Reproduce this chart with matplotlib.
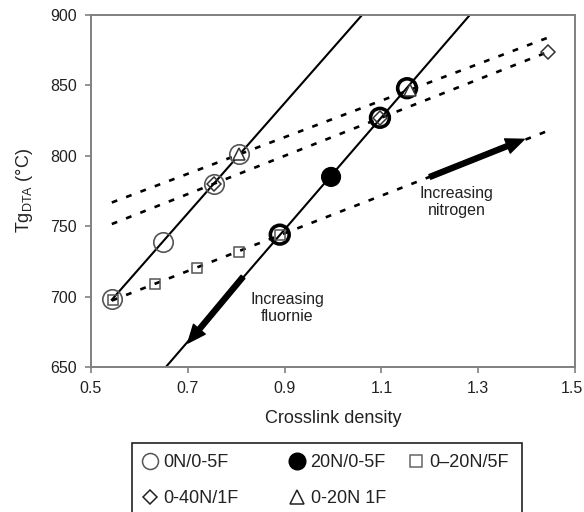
import numpy as np
import matplotlib
matplotlib.use("Agg")
import matplotlib.pyplot as plt
import matplotlib.transforms as mtransforms
from matplotlib.lines import Line2D
from matplotlib.patches import Rectangle

plt.rcParams['font.family'] = ['Liberation Sans', 'DejaVu Sans']
plt.rcParams['mathtext.fontset'] = 'custom'
plt.rcParams['mathtext.rm'] = 'Liberation Sans'
plt.rcParams['mathtext.it'] = 'Liberation Sans:italic'

# Glass transition temperature vs crosslink density for each composition series
x_0n = [0.543, 0.649, 0.754, 0.806]
y_0n = [698, 739, 780, 801]

x_20n = [0.890, 0.996, 1.097, 1.153]
y_20n = [744, 785, 827, 848]

x_5f = [0.545, 0.632, 0.719, 0.806, 0.890]
y_5f = [697.7, 709, 720.5, 732, 744]

x_40n1f = [0.754, 1.097, 1.444]
y_40n1f = [780, 827, 873.6]

x_20n1f = [0.806, 1.160]
y_20n1f = [801, 847]

labels = ['0N/0-5F', '20N/0-5F', '0\u201320N/5F', '0-40N/1F', '0-20N 1F']

x_ticks = [0.5, 0.7, 0.9, 1.1, 1.3, 1.5]
y_ticks = [650, 700, 750, 800, 850, 900]

W, H = 584, 512
fig = plt.figure(figsize=(W / 100, H / 100), dpi=100)
ax = fig.add_axes([91 / W, 1 - 367 / H, (575 - 91) / W, (367 - 15) / H])
ax.set_xlim(0.5, 1.5)
ax.set_ylim(650, 900)

def fit(xs, ys):
    return np.polyfit(xs, ys, 1)

# Solid fits: fluorine series at fixed nitrogen
p0 = fit(x_0n, y_0n)
xx = np.linspace(min(x_0n), 1.2, 50)
ax.plot(xx, np.polyval(p0, xx), color='black', lw=1.5, zorder=2)

p20 = fit(x_20n, y_20n)
xx = np.linspace(0.6, 1.35, 50)
ax.plot(xx, np.polyval(p20, xx), color='black', lw=1.5, zorder=2)

# Dashed fits: nitrogen series at fixed fluorine
dash = dict(color='black', lw=1.9, dashes=(2.2, 3.6), zorder=2)
x_lo, x_hi = 0.543, 1.445
for xs, ys in [(x_5f, y_5f), (x_40n1f, y_40n1f), (x_20n1f, y_20n1f)]:
    p = fit(xs, ys)
    xx = np.array([x_lo, x_hi])
    ax.plot(xx, np.polyval(p, xx), **dash)

# Markers
ax.plot(x_0n, y_0n, 'o', ms=14, mfc='none', mec='#555555', mew=1.2, zorder=3)

others = np.array(x_5f + x_40n1f + x_20n1f)
shared = np.array([np.any(np.abs(others - v) < 0.012) for v in x_20n])
ax.scatter(x_20n, y_20n, s=13.5 ** 2,
           facecolors=['none' if s else 'black' for s in shared],
           edgecolors='black', linewidths=[2.6 if s else 1.0 for s in shared],
           zorder=3)

ax.plot(x_5f, y_5f, 's', ms=7.5, mfc='none', mec='#555555', mew=1.1, zorder=3)
ax.plot(x_40n1f, y_40n1f, 'D', ms=7, mfc='none', mec='#333333', mew=1.1, zorder=3)
ax.plot(x_20n1f, y_20n1f, '^', ms=8.5, mfc='white', mec='#333333', mew=1.1, zorder=4)

# Trend arrows
arrow = dict(facecolor='black', edgecolor='black', width=3.6, headwidth=11,
             headlength=13, shrink=0)
ax.annotate('', xy=(0.700, 667), xytext=(0.814, 714), arrowprops=arrow, zorder=5)
ax.annotate('', xy=(1.395, 811.7), xytext=(1.200, 785), arrowprops=arrow, zorder=5)
ax.text(0.905, 692, 'Increasing\nfluornie', ha='center', va='center',
        fontsize=11.5, linespacing=1.2, color='#222222')
ax.text(1.256, 767, 'Increasing\nnitrogen', ha='center', va='center',
        fontsize=11.5, linespacing=1.2, color='#222222')

# Axes styling
for sp in ax.spines.values():
    sp.set_color('#808080')
    sp.set_linewidth(1.4)
ax.set_xticks(x_ticks)
ax.set_yticks(y_ticks)
ax.set_xticklabels([f'{v:.1f}' for v in x_ticks])
ax.tick_params(direction='out', length=4, width=1.2, color='#808080',
               labelsize=11.5, pad=6, labelcolor='#222222')
# keep the last x tick label inside the canvas
last = ax.get_xticklabels()[-1]
last.set_transform(last.get_transform() +
                   mtransforms.ScaledTranslation(-3 / 100, 0, fig.dpi_scale_trans))
ax.set_xlabel('Crosslink density', fontsize=13, color='#222222')
ax.xaxis.set_label_coords(0.5, -0.122)
ax.set_ylabel(r'Tg$_{\mathrm{DTA}}$ (°C)', fontsize=13, color='#222222')
ax.yaxis.set_label_coords(-0.116, 0.5)

# Legend box with three columns
fig.patches.append(Rectangle((132 / W, -0.3), (522 - 132) / W, 1 - 443 / H + 0.3,
                             transform=fig.transFigure, fill=False,
                             edgecolor='#222222', lw=1.2, clip_on=False))

h_0n = Line2D([], [], ls='none', marker='o', ms=11.5, mfc='none', mec='#555555', mew=1.1)
h_20n = Line2D([], [], ls='none', marker='o', ms=12, mfc='black', mec='black')
h_5f = Line2D([], [], ls='none', marker='s', ms=8, mfc='none', mec='#666666', mew=1.1)
h_40n = Line2D([], [], ls='none', marker='D', ms=7.5, mfc='none', mec='#222222', mew=1.1)
h_20n1f = Line2D([], [], ls='none', marker='^', ms=10, mfc='none', mec='#222222', mew=1.1)

columns = [([h_0n, h_40n], [labels[0], labels[3]], 141),
           ([h_20n, h_20n1f], [labels[1], labels[4]], 288),
           ([h_5f], [labels[2]], 407)]
for handles, labs, xpix in columns:
    fig.legend(handles, labs, loc='upper left',
               bbox_to_anchor=(xpix / W, 1 - 454 / H), frameon=False,
               fontsize=13, handlelength=1.0, handletextpad=0.25,
               labelspacing=1.07, borderpad=0, borderaxespad=0,
               labelcolor='#222222')

fig.savefig('out.png', dpi=100)
